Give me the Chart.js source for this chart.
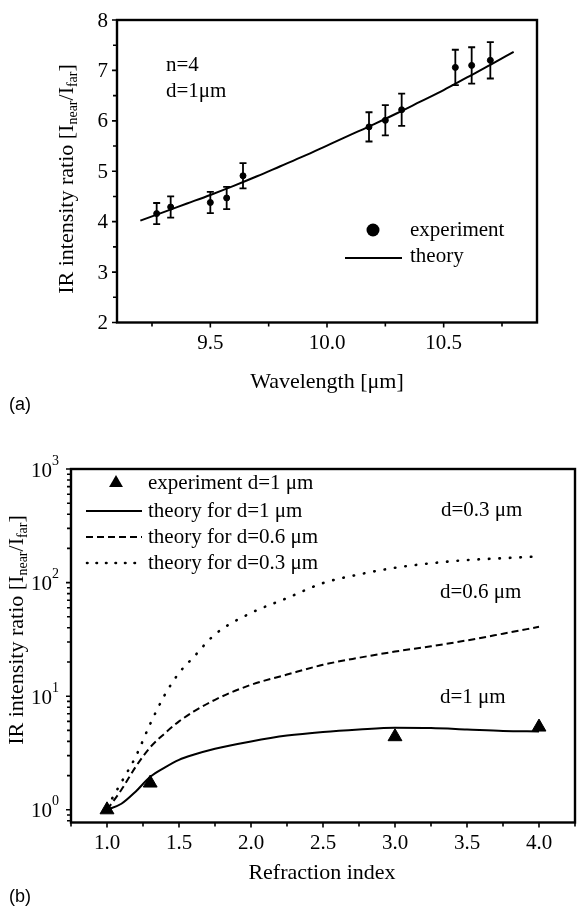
<!DOCTYPE html>
<html>
<head>
<meta charset="utf-8">
<script src="https://cdn.jsdelivr.net/npm/chart.js@4.4.1/dist/chart.umd.min.js"></script>
<style>
  html, body { margin: 0; padding: 0; background: #fff; }
  #wrap { position: relative; width: 584px; height: 911px; overflow: hidden; background: #fff; }
  canvas { position: absolute; left: 0; }
</style>
</head>
<body>
<div id="wrap">
  <canvas id="chartA" width="584" height="430" style="top:0"></canvas>
  <canvas id="chartB" width="584" height="481" style="top:430px"></canvas>
</div>
<script>
// ---- (a) ratio vs wavelength, n=4, d=1um
const wavelengthExp = [9.27, 9.33, 9.50, 9.57, 9.64, 10.18, 10.25, 10.32, 10.55, 10.62, 10.70];
const ratioExp = [4.16, 4.29, 4.38, 4.47, 4.91, 5.88, 6.01, 6.22, 7.06, 7.10, 7.20];
const ratioErr = [0.21, 0.21, 0.21, 0.22, 0.25, 0.29, 0.30, 0.32, 0.35, 0.36, 0.36];
const wavelengthTheory = [9.2, 9.3, 9.4, 9.5, 9.6, 9.7, 9.8, 9.9, 10.0, 10.1, 10.2, 10.3, 10.4, 10.5, 10.6, 10.7, 10.8];
const ratioTheory = [4.02, 4.19, 4.36, 4.53, 4.71, 4.90, 5.10, 5.30, 5.51, 5.72, 5.93, 6.15, 6.38, 6.61, 6.86, 7.11, 7.37];
const xTicksA = [9.5, 10.0, 10.5];
const xMinorA = [9.25, 9.75, 10.25, 10.75];
const yTicksA = [2, 3, 4, 5, 6, 7, 8];
const yMinorA = [2.5, 3.5, 4.5, 5.5, 6.5, 7.5];

// ---- (b) ratio vs refraction index
const indexExp = [1.0, 1.3, 3.0, 4.0];
const ratioExpB = [1.0, 1.72, 4.4, 5.35];
const indexTheory = [1.0, 1.1, 1.2, 1.3, 1.4, 1.5, 1.6, 1.75, 2.0, 2.25, 2.5, 2.75, 3.0, 3.25, 3.5, 3.75, 4.0];
const theoryD1 = [1.0, 1.13, 1.45, 1.95, 2.35, 2.75, 3.05, 3.45, 4.0, 4.5, 4.85, 5.1, 5.28, 5.25, 5.1, 4.95, 4.9];
const theoryD06 = [1.0, 1.5, 2.4, 3.55, 4.7, 6.0, 7.3, 9.3, 12.6, 15.5, 18.9, 21.8, 24.7, 27.5, 31, 35.5, 40.8];
const theoryD03 = [1.05, 1.75, 2.95, 5.7, 10.2, 16, 22, 35, 54, 73, 99, 118, 135, 148, 158, 164, 170];
const xTicksB = [1.0, 1.5, 2.0, 2.5, 3.0, 3.5, 4.0];
const xMinorB = [0.75, 1.25, 1.75, 2.25, 2.75, 3.25, 3.75, 4.25];
const yTicksB = [1, 10, 100, 1000];
const yExpB = ['0', '1', '2', '3'];

const SERIF = "'Liberation Serif', 'Times New Roman', serif";
const f = (size) => size + 'px ' + SERIF;

const toXY = (xs, ys) => xs.map((x, i) => ({ x: x, y: ys[i] }));

// draw text pieces (with sub/superscripts) around a middle line
function richText(ctx, parts, x, y, align) {
  let total = 0;
  parts.forEach(p => { ctx.font = f(p.size); p.w = ctx.measureText(p.t).width; total += p.w; });
  let cx = align === 'center' ? x - total / 2 : (align === 'right' ? x - total : x);
  ctx.textAlign = 'left';
  ctx.textBaseline = 'middle';
  parts.forEach(p => {
    ctx.font = f(p.size);
    ctx.fillText(p.t, cx, y + (p.dy || 0));
    cx += p.w;
  });
}

function yTitleParts() {
  return [
    { t: 'IR intensity ratio [I', size: 22 },
    { t: 'near', size: 14, dy: 6 },
    { t: '/I', size: 22 },
    { t: 'far', size: 14, dy: 6 },
    { t: ']', size: 22 },
  ];
}

function drawTickMarks(ctx, a, x, y, xMaj, xMin, yMaj, yMin) {
  ctx.beginPath();
  xMaj.forEach(v => { const p = x.getPixelForValue(v); ctx.moveTo(p, a.bottom); ctx.lineTo(p, a.bottom + 5); });
  xMin.forEach(v => { const p = x.getPixelForValue(v); ctx.moveTo(p, a.bottom); ctx.lineTo(p, a.bottom + 4); });
  yMaj.forEach(v => { const p = y.getPixelForValue(v); ctx.moveTo(a.left, p); ctx.lineTo(a.left - 5, p); });
  yMin.forEach(v => { const p = y.getPixelForValue(v); ctx.moveTo(a.left, p); ctx.lineTo(a.left - 4, p); });
  ctx.stroke();
}

// ---------------- chart (a)
const decorA = {
  id: 'decorA',
  beforeDatasetsDraw(chart) {
    const { ctx, scales: { x, y } } = chart;
    ctx.save();
    ctx.strokeStyle = '#000';
    ctx.lineWidth = 1.8;
    ctx.beginPath();
    wavelengthExp.forEach((w, i) => {
      const px = x.getPixelForValue(w);
      const top = y.getPixelForValue(ratioExp[i] + ratioErr[i]);
      const bot = y.getPixelForValue(ratioExp[i] - ratioErr[i]);
      ctx.moveTo(px, top); ctx.lineTo(px, bot);
      ctx.moveTo(px - 3.5, top); ctx.lineTo(px + 3.5, top);
      ctx.moveTo(px - 3.5, bot); ctx.lineTo(px + 3.5, bot);
    });
    ctx.stroke();
    ctx.restore();
  },
  afterDatasetsDraw(chart) {
    const { ctx, chartArea: a, scales: { x, y } } = chart;
    ctx.save();
    ctx.strokeStyle = '#000';
    ctx.fillStyle = '#000';
    ctx.lineWidth = 1.6;
    drawTickMarks(ctx, a, x, y, xTicksA, xMinorA, yTicksA, yMinorA);
    ctx.lineWidth = 2.4;
    ctx.strokeRect(a.left, a.top, a.right - a.left, a.bottom - a.top);

    // tick labels
    ctx.font = f(21);
    ctx.textAlign = 'right';
    ctx.textBaseline = 'middle';
    yTicksA.forEach(v => ctx.fillText(String(v), a.left - 9, y.getPixelForValue(v) + 1));
    ctx.textAlign = 'center';
    xTicksA.forEach(v => ctx.fillText(v.toFixed(1), x.getPixelForValue(v), a.bottom + 21));

    // axis titles
    ctx.font = f(22);
    ctx.fillText('Wavelength [\u03bcm]', (a.left + a.right) / 2, 382);
    ctx.save();
    ctx.translate(67, 179);
    ctx.rotate(-Math.PI / 2);
    richText(ctx, yTitleParts(), 0, 0, 'center');
    ctx.restore();

    // annotations
    ctx.font = f(21);
    ctx.textAlign = 'left';
    ctx.textBaseline = 'middle';
    ctx.fillText('n=4', 166, 65);
    ctx.fillText('d=1\u03bcm', 166, 91);

    // legend
    ctx.beginPath();
    ctx.arc(373, 230, 6.5, 0, Math.PI * 2);
    ctx.fill();
    ctx.fillText('experiment', 410, 230);
    ctx.lineWidth = 2;
    ctx.beginPath();
    ctx.moveTo(345, 258); ctx.lineTo(402, 258);
    ctx.stroke();
    ctx.fillText('theory', 410, 256);

    ctx.font = "18px 'Liberation Sans', Arial, sans-serif";
    ctx.fillText('(a)', 9, 405);
    ctx.restore();
  }
};

new Chart(document.getElementById('chartA').getContext('2d'), {
  type: 'scatter',
  data: {
    datasets: [
      {
        label: 'experiment',
        data: toXY(wavelengthExp, ratioExp),
        pointRadius: 3,
        pointBackgroundColor: '#000',
        pointBorderColor: '#000',
        showLine: false,
      },
      {
        label: 'theory',
        data: toXY(wavelengthTheory, ratioTheory),
        showLine: true,
        pointRadius: 0,
        borderColor: '#000',
        borderWidth: 2,
        cubicInterpolationMode: 'monotone',
      },
    ],
  },
  options: {
    responsive: false,
    animation: false,
    devicePixelRatio: 1,
    layout: { padding: { top: 20, right: 47, left: 0, bottom: 0 } },
    plugins: { legend: { display: false }, tooltip: { enabled: false } },
    scales: {
      x: {
        type: 'linear', min: 9.1, max: 10.9,
        grid: { display: false }, border: { display: false },
        ticks: { display: false },
        afterFit: (s) => { s.height = 107.5; },
      },
      y: {
        type: 'linear', min: 2, max: 8,
        grid: { display: false }, border: { display: false },
        ticks: { display: false },
        afterFit: (s) => { s.width = 117; },
      },
    },
  },
  plugins: [decorA],
});

// ---------------- chart (b)
function triangle(ctx, x, y, r) {
  ctx.beginPath();
  ctx.moveTo(x, y - r);
  ctx.lineTo(x + r * 0.866, y + r * 0.5);
  ctx.lineTo(x - r * 0.866, y + r * 0.5);
  ctx.closePath();
  ctx.fill();
}

const decorB = {
  id: 'decorB',
  afterDatasetsDraw(chart) {
    const { ctx, chartArea: a, scales: { x, y } } = chart;
    const yMinorB = [];
    [0.1, 1, 10, 100].forEach(dec => {
      for (let k = 2; k <= 9; k++) {
        const v = k * dec;
        if (v >= y.min && v <= y.max) yMinorB.push(v);
      }
    });
    ctx.save();
    ctx.strokeStyle = '#000';
    ctx.fillStyle = '#000';
    ctx.lineWidth = 1.6;
    drawTickMarks(ctx, a, x, y, xTicksB, xMinorB, yTicksB, yMinorB);
    ctx.lineWidth = 2.4;
    ctx.strokeRect(a.left, a.top, a.right - a.left, a.bottom - a.top);

    // tick labels
    ctx.font = f(21);
    ctx.textAlign = 'center';
    ctx.textBaseline = 'middle';
    xTicksB.forEach(v => ctx.fillText(v.toFixed(1), x.getPixelForValue(v), a.bottom + 21));
    yTicksB.forEach((v, i) => {
      const py = y.getPixelForValue(v);
      ctx.font = f(14);
      ctx.textAlign = 'right';
      ctx.fillText(yExpB[i], a.left - 12, py - 8);
      const sw = ctx.measureText(yExpB[i]).width;
      ctx.font = f(21);
      ctx.fillText('10', a.left - 12 - sw, py + 2);
    });

    // axis titles
    ctx.textAlign = 'center';
    ctx.font = f(22);
    ctx.fillText('Refraction index', 322, 443);
    ctx.save();
    ctx.translate(17, 200);
    ctx.rotate(-Math.PI / 2);
    richText(ctx, yTitleParts(), 0, 0, 'center');
    ctx.restore();

    // curve labels
    ctx.font = f(21);
    ctx.textAlign = 'left';
    ctx.fillText('d=0.3 \u03bcm', 441, 80);
    ctx.fillText('d=0.6 \u03bcm', 440, 162);
    ctx.fillText('d=1 \u03bcm', 440, 267);

    // legend
    const rows = [53, 81, 107, 133];
    triangle(ctx, 116, rows[0], 8);
    ctx.fillText('experiment d=1 \u03bcm', 148, rows[0]);
    ctx.fillText('theory for d=1 \u03bcm', 148, rows[1]);
    ctx.fillText('theory for d=0.6 \u03bcm', 148, rows[2]);
    ctx.fillText('theory for d=0.3 \u03bcm', 148, rows[3]);
    ctx.lineWidth = 2;
    ctx.beginPath(); ctx.moveTo(86, rows[1]); ctx.lineTo(142, rows[1]); ctx.stroke();
    ctx.setLineDash([7, 4]);
    ctx.beginPath(); ctx.moveTo(86, rows[2]); ctx.lineTo(142, rows[2]); ctx.stroke();
    ctx.lineCap = 'round';
    ctx.lineWidth = 2.6;
    ctx.setLineDash([0.5, 9]);
    ctx.beginPath(); ctx.moveTo(87, rows[3]); ctx.lineTo(142, rows[3]); ctx.stroke();
    ctx.setLineDash([]);

    ctx.font = "18px 'Liberation Sans', Arial, sans-serif";
    ctx.fillText('(b)', 9, 467);
    ctx.restore();
  }
};

new Chart(document.getElementById('chartB').getContext('2d'), {
  type: 'scatter',
  data: {
    datasets: [
      {
        label: 'experiment d=1 \u03bcm',
        data: toXY(indexExp, ratioExpB),
        pointStyle: 'triangle',
        pointRadius: 8,
        pointBackgroundColor: '#000',
        pointBorderColor: '#000',
        showLine: false,
      },
      {
        label: 'theory for d=1 \u03bcm',
        data: toXY(indexTheory, theoryD1),
        showLine: true, pointRadius: 0,
        borderColor: '#000', borderWidth: 2,
        cubicInterpolationMode: 'monotone',
      },
      {
        label: 'theory for d=0.6 \u03bcm',
        data: toXY(indexTheory, theoryD06),
        showLine: true, pointRadius: 0,
        borderColor: '#000', borderWidth: 2, borderDash: [7, 4],
        cubicInterpolationMode: 'monotone',
      },
      {
        label: 'theory for d=0.3 \u03bcm',
        data: toXY(indexTheory, theoryD03),
        showLine: true, pointRadius: 0,
        borderColor: '#000', borderWidth: 2.6, borderDash: [0.5, 10],
        borderCapStyle: 'round',
        cubicInterpolationMode: 'monotone',
      },
    ],
  },
  options: {
    responsive: false,
    animation: false,
    devicePixelRatio: 1,
    layout: { padding: { top: 39, right: 1, left: 0, bottom: 0 } },
    plugins: { legend: { display: false }, tooltip: { enabled: false } },
    scales: {
      x: {
        type: 'linear', min: 0.75, max: 4.25,
        grid: { display: false }, border: { display: false },
        ticks: { display: false },
        afterFit: (s) => { s.height = 88.5; },
      },
      y: {
        type: 'logarithmic', min: 0.773, max: 1000,
        grid: { display: false }, border: { display: false },
        ticks: { display: false },
        afterFit: (s) => { s.width = 71; },
      },
    },
  },
  plugins: [decorB],
});
</script>
</body>
</html>
